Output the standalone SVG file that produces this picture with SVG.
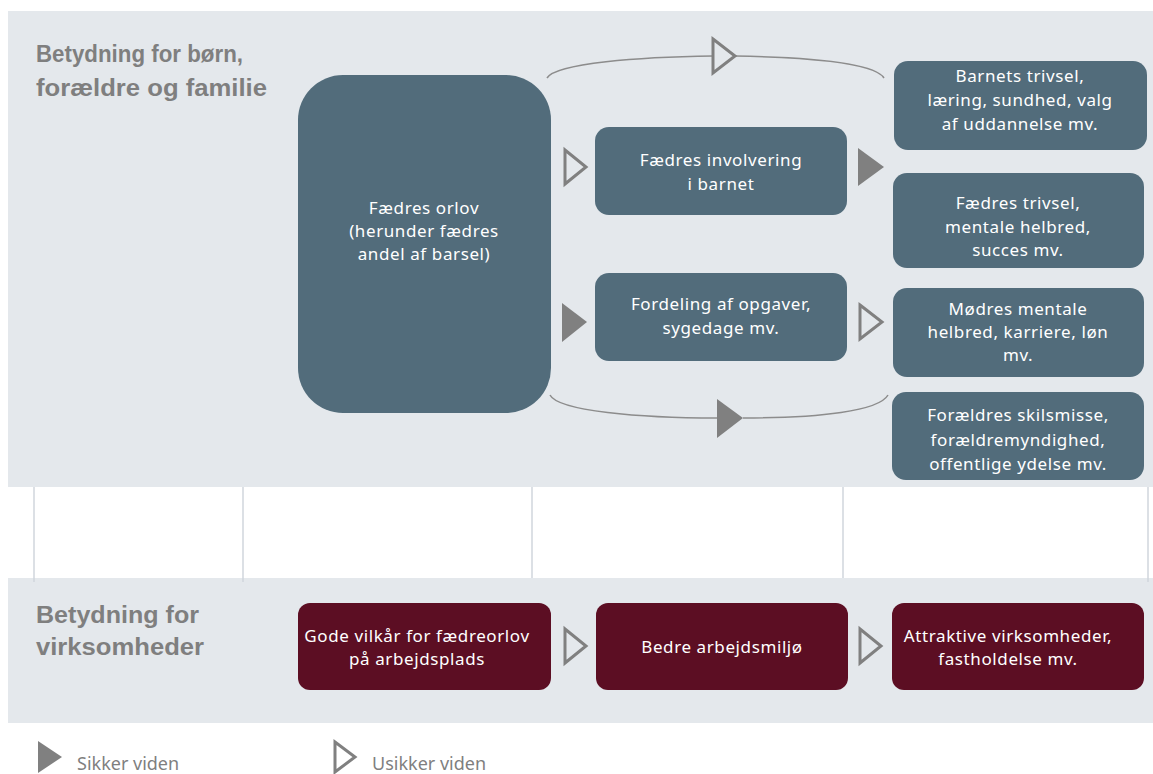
<svg xmlns="http://www.w3.org/2000/svg" width="1153" height="774" viewBox="0 0 1153 774">
<style>
.panel{fill:#e4e8ec}
.vline{stroke:#d0d6dc;stroke-width:1.5}
.title{font-family:"Liberation Sans",Arial,sans-serif;font-weight:bold;font-size:23px;fill:#7f7f7f}
.node{fill:#526c7b}
.red{fill:#5c0e23}
.nt{font-family:"Noto Sans","DejaVu Sans",sans-serif;font-size:17px;letter-spacing:0.6px;fill:#ffffff;text-anchor:middle}
.open{fill:none;stroke:#808080;stroke-width:3;stroke-linejoin:miter}
.fill{fill:#808080}
.curve{fill:none;stroke:#8c8c8c;stroke-width:1.5}
.leg{font-family:"Noto Sans","DejaVu Sans",sans-serif;font-size:18px;fill:#7f7f7f}
</style>
<rect class="panel" x="8" y="11" width="1145" height="476"/>
<rect class="panel" x="8" y="578" width="1145" height="145"/>
<g id="gridlines">
<line class="vline" x1="34" y1="487" x2="34" y2="582"/>
<line class="vline" x1="243" y1="487" x2="243" y2="582"/>
<line class="vline" x1="532" y1="487" x2="532" y2="578"/>
<line class="vline" x1="843" y1="487" x2="843" y2="578"/>
<line class="vline" x1="1148" y1="487" x2="1148" y2="582"/>
</g>
<g id="title-top">
<text class="title" x="36" y="62" textLength="207" lengthAdjust="spacingAndGlyphs">Betydning for børn,</text>
<text class="title" x="36" y="96" textLength="231" lengthAdjust="spacingAndGlyphs">forældre og familie</text>
</g>
<g id="title-bottom">
<text class="title" x="36" y="623" textLength="163" lengthAdjust="spacingAndGlyphs">Betydning for</text>
<text class="title" x="36" y="655" textLength="168" lengthAdjust="spacingAndGlyphs">virksomheder</text>
</g>
<g id="connectors">
<path class="curve" d="M547,78 C556,63 640,57 713,56 M735,56 C800,57 874,62 884,78"/>
<polygon class="open" points="713,39 735,56 713,73"/>
<path class="curve" d="M550,395 C558,411 640,418 717,418 M743,418 C820,418 879,411 888,395"/>
<polygon class="fill" points="717,399 743,418 717,438"/>
<polygon class="open" points="565,150 586,167 565,184"/>
<polygon class="fill" points="858,148 884,167 858,186"/>
<polygon class="fill" points="562,303 587,322 562,342"/>
<polygon class="open" points="860,305 882,322 860,339"/>
<polygon class="open" points="565,629 586,646 565,663"/>
<polygon class="open" points="860,629 881,646 860,663"/>
</g>
<g id="n-orlov">
<rect class="node" x="298" y="75" width="253" height="338" rx="45"/>
<text class="nt" x="424" y="214">Fædres orlov</text>
<text class="nt" x="424" y="237">(herunder fædres</text>
<text class="nt" x="424" y="260">andel af barsel)</text>
</g>
<g id="n-involvering">
<rect class="node" x="595" y="127" width="252" height="88" rx="14"/>
<text class="nt" x="721" y="166">Fædres involvering</text>
<text class="nt" x="721" y="190">i barnet</text>
</g>
<g id="n-fordeling">
<rect class="node" x="595" y="273" width="252" height="88" rx="14"/>
<text class="nt" x="721" y="310">Fordeling af opgaver,</text>
<text class="nt" x="721" y="334">sygedage mv.</text>
</g>
<g id="n-barnets">
<rect class="node" x="894" y="61" width="253" height="89" rx="14"/>
<text class="nt" x="1020" y="82">Barnets trivsel,</text>
<text class="nt" x="1020" y="106">læring, sundhed, valg</text>
<text class="nt" x="1020" y="130">af uddannelse mv.</text>
</g>
<g id="n-faedres-trivsel">
<rect class="node" x="893" y="173" width="251" height="95" rx="14"/>
<text class="nt" x="1018" y="209">Fædres trivsel,</text>
<text class="nt" x="1018" y="233">mentale helbred,</text>
<text class="nt" x="1018" y="256">succes mv.</text>
</g>
<g id="n-modres">
<rect class="node" x="893" y="288" width="251" height="89" rx="14"/>
<text class="nt" x="1018" y="315">Mødres mentale</text>
<text class="nt" x="1018" y="338">helbred, karriere, løn</text>
<text class="nt" x="1018" y="361">mv.</text>
</g>
<g id="n-skilsmisse">
<rect class="node" x="892" y="392" width="252" height="88" rx="14"/>
<text class="nt" x="1018" y="421">Forældres skilsmisse,</text>
<text class="nt" x="1018" y="446">forældremyndighed,</text>
<text class="nt" x="1018" y="470">offentlige ydelse mv.</text>
</g>
<g id="n-vilkaar">
<rect class="red" x="298" y="603" width="253" height="87" rx="12"/>
<text class="nt" x="417" y="642">Gode vilkår for fædreorlov</text>
<text class="nt" x="417" y="665">på arbejdsplads</text>
</g>
<g id="n-arbejdsmiljo">
<rect class="red" x="596" y="603" width="252" height="87" rx="12"/>
<text class="nt" x="722" y="653">Bedre arbejdsmiljø</text>
</g>
<g id="n-attraktive">
<rect class="red" x="892" y="603" width="252" height="87" rx="12"/>
<text class="nt" x="1008" y="642">Attraktive virksomheder,</text>
<text class="nt" x="1008" y="665">fastholdelse mv.</text>
</g>
<g id="legend">
<polygon class="fill" points="38,741 62,757 38,773"/>
<text class="leg" x="77" y="770">Sikker viden</text>
<polygon class="open" points="335,742 355,757 335,772"/>
<text class="leg" x="372" y="770">Usikker viden</text>
</g>
</svg>
